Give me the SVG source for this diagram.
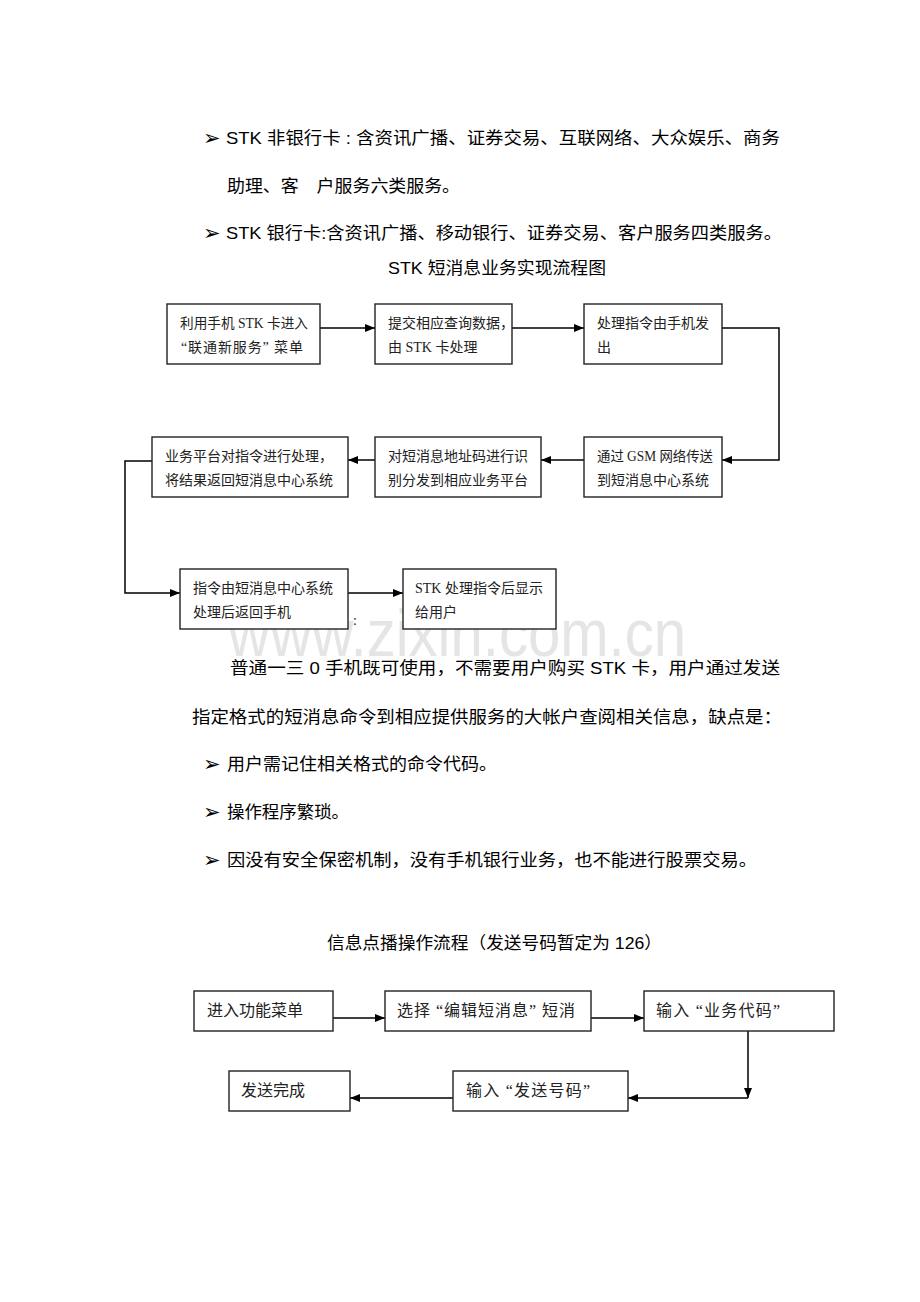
<svg xmlns="http://www.w3.org/2000/svg" width="920" height="1302" viewBox="0 0 920 1302">
<style>
.p{font-family:"Liberation Sans","Noto Sans CJK SC",sans-serif;font-size:17px;fill:#000}
.t{font-family:"Liberation Sans","Noto Sans CJK SC",sans-serif;font-size:17px;fill:#000}
.b{font-family:"DejaVu Sans",sans-serif;font-size:21px;fill:#000}
.bx{fill:#fff;stroke:#222;stroke-width:1.4}
.n{font-family:"Liberation Serif","Noto Sans CJK SC",serif;font-size:14px;fill:#222}
.m{font-family:"Liberation Serif","Noto Sans CJK SC",serif;font-size:16px;fill:#222}
.c{fill:none;stroke:#000;stroke-width:1.5}
.wm{font-family:"Liberation Sans",sans-serif;font-size:66px;fill:#d0d0d0;opacity:0.55}
</style>
<defs>
<marker id="ah" viewBox="0 0 10 8" refX="10" refY="4" markerWidth="10" markerHeight="8" markerUnits="userSpaceOnUse" orient="auto">
<path d="M0,0 L10,4 L0,8 Z" fill="#000"/>
</marker>
</defs>
<rect width="920" height="1302" fill="#fff"/>

<g id="intro">
<text class="b" x="203" y="145">➢</text>
<text class="p" x="226" y="144" textLength="554" lengthAdjust="spacingAndGlyphs">STK 非银行卡 : 含资讯广播、证券交易、互联网络、大众娱乐、商务</text>
<text class="p" x="227" y="192" textLength="233" lengthAdjust="spacingAndGlyphs">助理、客　户服务六类服务。</text>
<text class="b" x="203" y="240">➢</text>
<text class="p" x="226" y="239" textLength="556" lengthAdjust="spacingAndGlyphs">STK 银行卡:含资讯广播、移动银行、证券交易、客户服务四类服务。</text>
<text class="t" x="388" y="274" textLength="218" lengthAdjust="spacingAndGlyphs">STK 短消息业务实现流程图</text>
</g>

<text class="wm" x="228" y="656" textLength="458" lengthAdjust="spacingAndGlyphs">www.zixin.com.cn</text>

<g id="connectors">
<path class="c" d="M320,328 H375" marker-end="url(#ah)"/>
<path class="c" d="M512,328 H584" marker-end="url(#ah)"/>
<path class="c" d="M722,328 H779 V460 H722" marker-end="url(#ah)"/>
<path class="c" d="M584,460 H541" marker-end="url(#ah)"/>
<path class="c" d="M375,460 H348" marker-end="url(#ah)"/>
<path class="c" d="M152,461 H125 V593 H180" marker-end="url(#ah)"/>
<path class="c" d="M348,593 H403" marker-end="url(#ah)"/>
<path class="c" d="M333,1018 H385" marker-end="url(#ah)"/>
<path class="c" d="M591,1018 H644" marker-end="url(#ah)"/>
<path class="c" d="M748,1031 V1098" marker-end="url(#ah)"/>
<path class="c" d="M748,1098 H628" marker-end="url(#ah)"/>
<path class="c" d="M453,1098 H350" marker-end="url(#ah)"/>
</g>

<g id="n1"><rect class="bx" x="167" y="304" width="153" height="60"/>
<text class="n" x="180" y="328" textLength="128" lengthAdjust="spacingAndGlyphs">利用手机 STK 卡进入</text>
<text class="n" x="181" y="352" textLength="122" lengthAdjust="spacing">“联通新服务” 菜单</text></g>
<g id="n2"><rect class="bx" x="375" y="304" width="137" height="60"/>
<text class="n" x="388" y="328">提交相应查询数据，</text>
<text class="n" x="388" y="352">由 STK 卡处理</text></g>
<g id="n3"><rect class="bx" x="584" y="304" width="138" height="60"/>
<text class="n" x="597" y="328">处理指令由手机发</text>
<text class="n" x="597" y="352">出</text></g>
<g id="n4"><rect class="bx" x="584" y="437" width="138" height="60"/>
<text class="n" x="597" y="461" textLength="116" lengthAdjust="spacingAndGlyphs">通过 GSM 网络传送</text>
<text class="n" x="597" y="485">到短消息中心系统</text></g>
<g id="n5"><rect class="bx" x="375" y="437" width="166" height="60"/>
<text class="n" x="388" y="461">对短消息地址码进行识</text>
<text class="n" x="388" y="485">别分发到相应业务平台</text></g>
<g id="n6"><rect class="bx" x="152" y="437" width="196" height="60"/>
<text class="n" x="165" y="461">业务平台对指令进行处理，</text>
<text class="n" x="165" y="485">将结果返回短消息中心系统</text></g>
<g id="n7"><rect class="bx" x="180" y="569" width="168" height="60"/>
<text class="n" x="193" y="593">指令由短消息中心系统</text>
<text class="n" x="193" y="617">处理后返回手机</text></g>
<g id="n8"><rect class="bx" x="403" y="569" width="153" height="60"/>
<text class="n" x="415" y="593">STK 处理指令后显示</text>
<text class="n" x="415" y="617">给用户</text></g>
<text class="n" x="353" y="625">:</text>

<g id="para">
<text class="p" x="230" y="674" textLength="550" lengthAdjust="spacingAndGlyphs">普通一三 0 手机既可使用，不需要用户购买 STK 卡，用户通过发送</text>
<text class="p" x="192" y="723" textLength="590" lengthAdjust="spacingAndGlyphs">指定格式的短消息命令到相应提供服务的大帐户查阅相关信息，缺点是：</text>
<text class="b" x="203" y="771">➢</text>
<text class="p" x="227" y="770" textLength="270" lengthAdjust="spacingAndGlyphs">用户需记住相关格式的命令代码。</text>
<text class="b" x="203" y="819">➢</text>
<text class="p" x="227" y="818" textLength="122" lengthAdjust="spacingAndGlyphs">操作程序繁琐。</text>
<text class="b" x="203" y="867">➢</text>
<text class="p" x="227" y="866" textLength="530" lengthAdjust="spacingAndGlyphs">因没有安全保密机制，没有手机银行业务，也不能进行股票交易。</text>
<text class="t" x="327" y="949" textLength="335" lengthAdjust="spacingAndGlyphs">信息点播操作流程（发送号码暂定为 126）</text>
</g>

<g id="m1"><rect class="bx" x="194" y="991" width="139" height="40"/>
<text class="m" x="207" y="1016">进入功能菜单</text></g>
<g id="m2"><rect class="bx" x="385" y="991" width="206" height="40"/>
<text class="m" x="397" y="1016" textLength="178" lengthAdjust="spacing">选择 “编辑短消息” 短消</text></g>
<g id="m3"><rect class="bx" x="644" y="991" width="190" height="40"/>
<text class="m" x="656" y="1016" textLength="124" lengthAdjust="spacing">输入 “业务代码”</text></g>
<g id="m4"><rect class="bx" x="453" y="1071" width="175" height="40"/>
<text class="m" x="466" y="1096" textLength="124" lengthAdjust="spacing">输入 “发送号码”</text></g>
<g id="m5"><rect class="bx" x="229" y="1071" width="121" height="40"/>
<text class="m" x="241" y="1096">发送完成</text></g>
</svg>
